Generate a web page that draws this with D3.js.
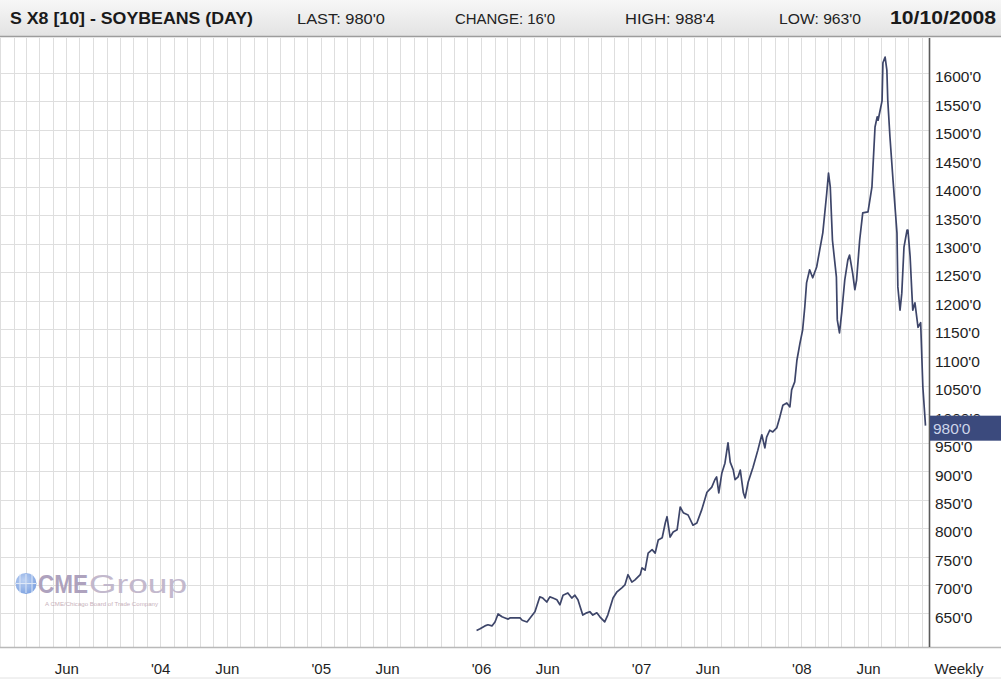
<!DOCTYPE html>
<html>
<head>
<meta charset="utf-8">
<script src="https://cdn.jsdelivr.net/npm/d3@7"></script>
<style>
  html, body { margin: 0; padding: 0; background: #ffffff; }
  svg { display: block; }
  text { font-family: "Liberation Sans", Arial, sans-serif; }
</style>
</head>
<body>
<svg id="chart" width="1001" height="679"></svg>
<script>
// ---------- data ----------
const dates = [
  "2005-12-22","2005-12-30","2006-01-10","2006-01-17","2006-01-26","2006-02-02","2006-02-09","2006-02-18",
  "2006-02-25","2006-03-04","2006-03-08","2006-03-20","2006-03-31","2006-04-05","2006-04-16","2006-04-23",
  "2006-05-04","2006-05-15","2006-05-22","2006-05-31","2006-06-07","2006-06-14","2006-06-23","2006-06-30",
  "2006-07-07","2006-07-18","2006-07-27","2006-08-03","2006-08-10","2006-08-21","2006-08-30","2006-09-06",
  "2006-09-13","2006-09-22","2006-09-29","2006-10-10","2006-10-17","2006-10-29","2006-11-07","2006-11-18",
  "2006-11-25","2006-12-02","2006-12-11","2006-12-18","2006-12-30","2007-01-03","2007-01-10","2007-01-17",
  "2007-01-26","2007-02-02","2007-02-09","2007-02-18","2007-02-25","2007-03-01","2007-03-08","2007-03-15",
  "2007-03-24","2007-03-31","2007-04-07","2007-04-18","2007-04-29","2007-05-08","2007-05-19","2007-05-31",
  "2007-06-11","2007-06-18","2007-06-22","2007-06-27","2007-07-04","2007-07-11","2007-07-18","2007-07-23",
  "2007-07-30","2007-08-03","2007-08-10","2007-08-15","2007-08-22","2007-08-26","2007-09-02","2007-09-13",
  "2007-09-24","2007-10-03","2007-10-10","2007-10-14","2007-10-21","2007-10-28","2007-11-06","2007-11-13",
  "2007-11-20","2007-11-29","2007-12-06","2007-12-10","2007-12-17","2007-12-22","2007-12-29","2008-01-04",
  "2008-01-09","2008-01-13","2008-01-20","2008-01-27","2008-02-05","2008-02-12","2008-02-19","2008-02-28",
  "2008-03-03","2008-03-07","2008-03-12","2008-03-21","2008-03-23","2008-03-28","2008-04-02","2008-04-09",
  "2008-04-16","2008-04-20","2008-04-27","2008-05-02","2008-05-06","2008-05-13","2008-05-20","2008-06-01",
  "2008-06-10","2008-06-17","2008-06-22","2008-06-24","2008-07-03","2008-07-05","2008-07-10","2008-07-14",
  "2008-07-16","2008-07-21","2008-07-28","2008-08-06","2008-08-08","2008-08-13","2008-08-17","2008-08-22",
  "2008-08-29","2008-08-31","2008-09-05","2008-09-09","2008-09-11","2008-09-16","2008-09-23","2008-09-29",
  "2008-10-04","2008-10-10"
];
const prices = [
  620,623,628,630,628,635,649,644,
  642,640,642,642,642,638,635,642,
  653,679,677,670,679,677,674,665,
  682,686,677,682,674,647,651,653,
  647,651,644,635,647,677,688,695,
  700,718,705,709,718,730,726,756,
  762,756,779,783,809,820,784,793,
  797,837,827,823,805,809,832,863,
  872,885,890,862,897,914,950,916,
  902,885,890,902,862,853,881,907,
  937,964,941,960,972,969,976,995,
  1016,1020,1013,1043,1057,1095,1125,1148,
  1189,1231,1254,1240,1259,1289,1319,1389,
  1424,1400,1306,1241,1166,1143,1178,1236,
  1271,1280,1248,1219,1236,1306,1354,1356,
  1400,1505,1523,1517,1551,1618,1628,1605,
  1553,1488,1412,1319,1224,1183,1213,1294,
  1324,1324,1277,1213,1183,1196,1153,1161,
  1048,980
];
const yTicks = [650,700,750,800,850,900,950,1000,1050,1100,1150,1200,1250,1300,1350,1400,1450,1500,1550,1600];
const xTickDates = ["2003-06-01","2004-01-01","2004-06-01","2005-01-01","2005-06-01","2006-01-01",
                    "2006-06-01","2007-01-01","2007-06-01","2008-01-01","2008-06-01"];
const xTickLabels = ["Jun","'04","Jun","'05","Jun","'06","Jun","'07","Jun","'08","Jun"];
const headerTitle = "S X8 [10] - SOYBEANS (DAY)";
const headerItems = ["LAST: 980'0","CHANGE: 16'0","HIGH: 988'4","LOW: 963'0"];
const headerDate = "10/10/2008";
const lastValue = 980;

// ---------- layout ----------
const W = 1001, H = 679;
const plot = { left: 0, right: 929, top: 38, bottom: 647 };
const parse = d3.timeParse("%Y-%m-%d");
const series = dates.map((d, i) => ({ date: parse(d), value: prices[i] }));

const x = d3.scaleTime()
  .domain([parse("2003-01-01"), parse("2008-10-18")])
  .range([plot.left, plot.right]);
const y = d3.scaleLinear()
  .domain([650, 1600])
  .range([613.4, 73]);

const svg = d3.select("#chart");
svg.append("rect").attr("width", W).attr("height", H).attr("fill", "#ffffff");

// header
const defs = svg.append("defs");
const hg = defs.append("linearGradient").attr("id", "hdr").attr("x1", 0).attr("y1", 0).attr("x2", 0).attr("y2", 1);
hg.append("stop").attr("offset", "0%").attr("stop-color", "#f7f7f7");
hg.append("stop").attr("offset", "100%").attr("stop-color", "#e3e3e3");
svg.append("rect").attr("x", 0).attr("y", 0).attr("width", W).attr("height", 36).attr("fill", "url(#hdr)");
svg.append("line").attr("x1", 0).attr("x2", W).attr("y1", 36.5).attr("y2", 36.5)
  .attr("stroke", "#9c9c9c").attr("stroke-width", 1.5);

svg.append("text").attr("x", 10).attr("y", 23.5)
  .attr("font-size", 16).attr("font-weight", "bold").attr("fill", "#1a1a1a")
  .attr("textLength", 243).attr("lengthAdjust", "spacingAndGlyphs")
  .text(headerTitle);
const hx = [297, 455, 625, 779], hw = [88, 100, 90, 82];
headerItems.forEach((t, i) => {
  svg.append("text").attr("x", hx[i]).attr("y", 23.5)
    .attr("font-size", 15).attr("fill", "#222")
    .attr("textLength", hw[i]).attr("lengthAdjust", "spacingAndGlyphs")
    .text(t);
});
svg.append("text").attr("x", 890).attr("y", 24)
  .attr("font-size", 19).attr("font-weight", "bold").attr("fill", "#1a1a1a")
  .attr("textLength", 106).attr("lengthAdjust", "spacingAndGlyphs")
  .text(headerDate);

// grid
const grid = svg.append("g");
grid.selectAll("line.v").data(d3.timeMonth.range(x.domain()[0], x.domain()[1]))
  .join("line").attr("class", "v")
  .attr("x1", d => Math.round(x(d)) + 0.5).attr("x2", d => Math.round(x(d)) + 0.5)
  .attr("y1", plot.top).attr("y2", plot.bottom)
  .attr("stroke", "#dedede").attr("stroke-width", 1);
grid.selectAll("line.h").data(yTicks)
  .join("line").attr("class", "h")
  .attr("x1", plot.left).attr("x2", plot.right)
  .attr("y1", d => Math.round(y(d)) + 0.5).attr("y2", d => Math.round(y(d)) + 0.5)
  .attr("stroke", "#dedede").attr("stroke-width", 1);

// CME logo (watermark)
const logo = svg.append("g").attr("opacity", 0.9);
const gg = defs.append("radialGradient").attr("id", "globe").attr("cx", "40%").attr("cy", "35%").attr("r", "70%");
gg.append("stop").attr("offset", "0%").attr("stop-color", "#b7cdf2");
gg.append("stop").attr("offset", "100%").attr("stop-color", "#6f98de");
logo.append("circle").attr("cx", 26).attr("cy", 583.5).attr("r", 10.5).attr("fill", "url(#globe)");
[-6, 0, 6].forEach(dx => logo.append("line").attr("x1", 26 + dx).attr("x2", 26 + dx)
  .attr("y1", 574).attr("y2", 593).attr("stroke", "#dbe6f8").attr("stroke-width", 1));
logo.append("line").attr("x1", 16).attr("x2", 36).attr("y1", 583.5).attr("y2", 583.5)
  .attr("stroke", "#dbe6f8").attr("stroke-width", 1);
logo.append("text").attr("x", 38).attr("y", 593).attr("font-size", 25).attr("font-weight", "bold")
  .attr("fill", "#a699b7").attr("textLength", 50).attr("lengthAdjust", "spacingAndGlyphs").text("CME");
logo.append("text").attr("x", 89).attr("y", 593).attr("font-size", 25)
  .attr("fill", "#bdb2c8").attr("textLength", 98).attr("lengthAdjust", "spacingAndGlyphs").text("Group");
logo.append("text").attr("x", 45).attr("y", 606).attr("font-size", 6)
  .attr("fill", "#c3aab4").attr("textLength", 113).attr("lengthAdjust", "spacingAndGlyphs")
  .text("A CME/Chicago Board of Trade Company");

// price line
const line = d3.line().x(d => x(d.date)).y(d => y(d.value));
svg.append("path").datum(series)
  .attr("d", line).attr("fill", "none")
  .attr("stroke", "#3d4569").attr("stroke-width", 1.7).attr("stroke-linejoin", "round");

// frame lines
svg.append("line").attr("x1", 0).attr("x2", W).attr("y1", plot.bottom + 0.5).attr("y2", plot.bottom + 0.5)
  .attr("stroke", "#b9b9b9").attr("stroke-width", 1.5);
svg.append("line").attr("x1", 0).attr("x2", W).attr("y1", 678).attr("y2", 678)
  .attr("stroke", "#e2e2e2").attr("stroke-width", 1);

// right axis
const ly = y(lastValue);
const boxTop = ly - 10, boxH = 25;
defs.append("clipPath").attr("id", "axclip").append("rect")
  .attr("x", plot.right).attr("y", 0).attr("width", W).attr("height", boxTop);
defs.select("#axclip").append("rect")
  .attr("x", plot.right).attr("y", boxTop + boxH).attr("width", W).attr("height", H);
const yAxis = d3.axisRight(y).tickValues(yTicks).tickSize(0).tickPadding(6)
  .tickFormat(d => d + "'0");
const ya = svg.append("g").attr("clip-path", "url(#axclip)")
  .append("g").attr("transform", `translate(${plot.right},0)`).call(yAxis);
ya.select(".domain").remove();
ya.selectAll("text").attr("font-family", "Liberation Sans, Arial, sans-serif")
  .attr("font-size", 15.5).attr("fill", "#1e1e1e").attr("dy", "0.67em")
  .attr("transform", "translate(0,-1.5)");
svg.append("line").attr("x1", plot.right + 0.5).attr("x2", plot.right + 0.5)
  .attr("y1", plot.top).attr("y2", plot.bottom)
  .attr("stroke", "#5a5a5a").attr("stroke-width", 1.6);

// last value marker
svg.append("rect").attr("x", plot.right + 1).attr("y", boxTop).attr("width", W - plot.right - 1).attr("height", boxH)
  .attr("fill", "#3b4a7d");
svg.append("text").attr("x", plot.right + 4).attr("y", ly + 8.5)
  .attr("font-size", 15.5).attr("fill", "#cdd5ea").text(lastValue + "'0");

// bottom axis
const xAxis = d3.axisBottom(x).tickValues(xTickDates.map(parse)).tickSize(0).tickPadding(0)
  .tickFormat((d, i) => xTickLabels[i]);
const xa = svg.append("g").attr("transform", `translate(0,${plot.bottom})`).call(xAxis);
xa.select(".domain").remove();
xa.selectAll("text").attr("font-family", "Liberation Sans, Arial, sans-serif")
  .attr("font-size", 15).attr("fill", "#1e1e1e").attr("dy", 0).attr("y", 27);
svg.append("text").attr("x", 959).attr("y", plot.bottom + 27).attr("text-anchor", "middle")
  .attr("font-size", 15).attr("fill", "#1e1e1e").text("Weekly");
</script>
</body>
</html>
